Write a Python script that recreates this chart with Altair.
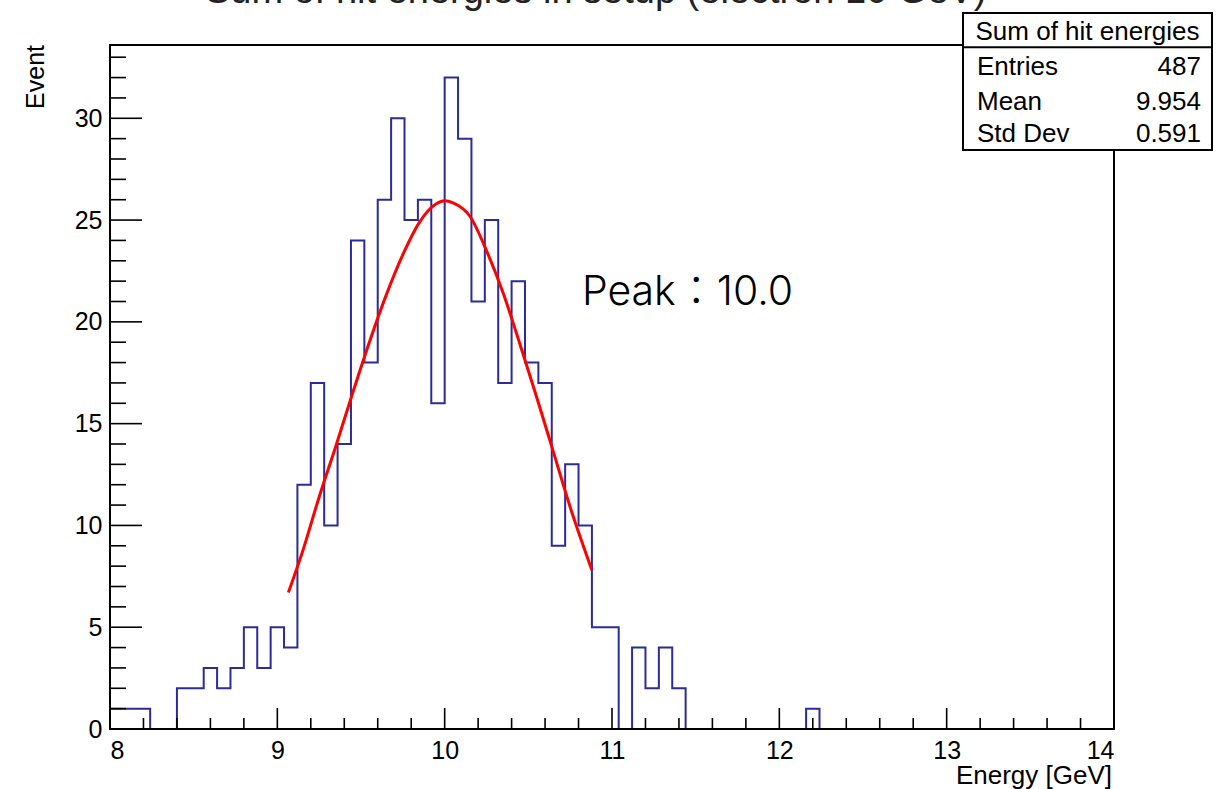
import altair as alt
import pandas as pd

# ---------------- data ----------------
# histogram: 75 bins of 0.08 GeV from 8 to 14 GeV
bin_start = 8.0
bin_width = 0.08
counts = [1, 1, 1, 0, 0, 2, 2, 3, 2, 3,
          5, 3, 5, 4, 12, 17, 10, 14, 24, 18,
          26, 30, 25, 26, 16, 32, 29, 21, 25, 17,
          22, 18, 17, 9, 13, 10, 5, 5, 0, 4,
          2, 4, 2, 0, 0, 0, 0, 0, 0, 0,
          0, 0, 1, 0, 0, 0, 0, 0, 0, 0,
          0, 0, 0, 0, 0, 0, 0, 0, 0, 0,
          0, 0, 0, 0, 0]

# fitted curve, points
fit_x = [9.066, 9.15, 9.25, 9.35, 9.45, 9.55, 9.65, 9.75, 9.85, 9.95,
         10.0, 10.05, 10.15, 10.25, 10.35, 10.45, 10.55, 10.65, 10.75, 10.88]
fit_y = [6.7, 8.7, 11.4, 13.9, 16.5, 19.0, 21.3, 23.3, 24.9, 25.8,
         25.95, 25.85, 25.2, 23.5, 21.4, 18.9, 16.3, 13.6, 10.9, 7.8]

x_major = [8, 9, 10, 11, 12, 13, 14]
x_minor = [round(8 + 0.2 * i, 1) for i in range(31) if i % 5 != 0]
y_major = [0, 5, 10, 15, 20, 25, 30]
y_minor = [v for v in range(0, 34) if v % 5 != 0]

stat_header = "Sum of hit energies"
stat_names = ["Entries", "Mean", "Std Dev"]
stat_values = ["487", "9.954", "0.591"]

annot_x = [10.82]
annot_y = [20.83]
annot_text = ["Peak：10.0"]

title_text = "Sum of hit energies in setup (electron 10 GeV)"
x_title = "Energy [GeV]"
y_title = "Event"

# ---------------- tables ----------------
edges = [round(bin_start + bin_width * i, 2) for i in range(len(counts) + 1)]
hist_df = pd.DataFrame({"x": edges, "y": counts + [0]})
fit_df = pd.DataFrame({"x": fit_x, "y": fit_y})
one = pd.DataFrame({"k": [0]})

W, H = 1004, 684
FONT = "Liberation Sans"

xscale = alt.Scale(domain=[8, 14], nice=False, zero=False)
yscale = alt.Scale(domain=[0, 33.6], nice=False, zero=False)
xaxis = alt.Axis(values=x_major, format="d", ticks=False, domain=False, grid=False,
                 labelFont=FONT, labelFontSize=25, labelColor="black",
                 labelPadding=9, title=None)
yaxis = alt.Axis(values=y_major, format="d", ticks=False, domain=False, grid=False,
                 labelFont=FONT, labelFontSize=25, labelColor="black",
                 labelPadding=8, title=None)


def X(f):
    return alt.X(f, type="quantitative", scale=xscale, axis=xaxis)


def Y(f):
    return alt.Y(f, type="quantitative", scale=yscale, axis=yaxis)


hist = alt.Chart(hist_df).mark_line(
    interpolate="step-after", color="#2b2b99", strokeWidth=2
).encode(x=X("x"), y=Y("y"))

fit = alt.Chart(fit_df).mark_line(
    interpolate="monotone", color="#ff0000", strokeWidth=3
).encode(x=X("x"), y=Y("y"))

frame = alt.Chart(one).mark_rect(
    fillOpacity=0, stroke="black", strokeWidth=2
).encode(x=alt.value(0), x2=alt.value(W), y=alt.value(0), y2=alt.value(H))

xt_major = alt.Chart(pd.DataFrame({"v": x_major})).mark_rule(
    color="black", strokeWidth=1.6
).encode(x=X("v"), y=alt.value(H), y2=alt.value(H - 21))
xt_minor = alt.Chart(pd.DataFrame({"v": x_minor})).mark_rule(
    color="black", strokeWidth=1.6
).encode(x=X("v"), y=alt.value(H), y2=alt.value(H - 11))
yt_major = alt.Chart(pd.DataFrame({"v": y_major})).mark_rule(
    color="black", strokeWidth=1.6
).encode(y=Y("v"), x=alt.value(0), x2=alt.value(32))
yt_minor = alt.Chart(pd.DataFrame({"v": y_minor})).mark_rule(
    color="black", strokeWidth=1.6
).encode(y=Y("v"), x=alt.value(0), x2=alt.value(16))

peak = alt.Chart(pd.DataFrame({"x": annot_x, "y": annot_y, "t": annot_text})).mark_text(
    align="left", baseline="alphabetic", font="Inter, Noto Sans CJK JP", fontSize=41,
    fontWeight=300, color="black"
).encode(x=X("x"), y=Y("y"), text="t:N")

# statistics box
box = alt.Chart(one).mark_rect(
    fill="white", stroke="black", strokeWidth=2
).encode(x=alt.value(853), x2=alt.value(1102), y=alt.value(-32), y2=alt.value(105))
box_sep = alt.Chart(one).mark_rule(color="black", strokeWidth=2).encode(
    x=alt.value(853), x2=alt.value(1102), y=alt.value(2.3))
box_head = alt.Chart(pd.DataFrame({"t": [stat_header]})).mark_text(
    align="center", baseline="alphabetic", font=FONT, fontSize=26, color="black"
).encode(x=alt.value(977.5), y=alt.value(-5.5), text="t:N")

stat_layers = []
row_y = [30, 65, 96.5]
for name, val, ry in zip(stat_names, stat_values, row_y):
    stat_layers.append(alt.Chart(pd.DataFrame({"t": [name]})).mark_text(
        align="left", baseline="alphabetic", font=FONT, fontSize=26, color="black"
    ).encode(x=alt.value(867), y=alt.value(ry), text="t:N"))
    stat_layers.append(alt.Chart(pd.DataFrame({"t": [val]})).mark_text(
        align="right", baseline="alphabetic", font=FONT, fontSize=26, color="black"
    ).encode(x=alt.value(1091), y=alt.value(ry), text="t:N"))

title = alt.Chart(pd.DataFrame({"t": [title_text]})).mark_text(
    align="left", baseline="alphabetic", font=FONT, fontSize=38, color="#222222"
).encode(x=alt.value(95), y=alt.value(-42), text="t:N")

xlab = alt.Chart(pd.DataFrame({"t": [x_title]})).mark_text(
    align="right", baseline="alphabetic", font=FONT, fontSize=26, color="black"
).encode(x=alt.value(1002), y=alt.value(739), text="t:N")

ylab = alt.Chart(pd.DataFrame({"t": [y_title]})).mark_text(
    align="right", baseline="middle", font=FONT, fontSize=25, color="black", angle=270
).encode(x=alt.value(-74), y=alt.value(0), text="t:N")

chart = alt.layer(
    hist, fit, frame, xt_major, xt_minor, yt_major, yt_minor, peak,
    box, box_sep, box_head, *stat_layers, title, xlab, ylab
).properties(
    width=W, height=H,
    autosize=alt.AutoSizeParams(type="none"),
    padding={"left": 110, "top": 45, "right": 103, "bottom": 60},
    background="white",
).configure_view(stroke=None)

chart.save("out.html", embed_options={"renderer": "svg", "actions": False})
